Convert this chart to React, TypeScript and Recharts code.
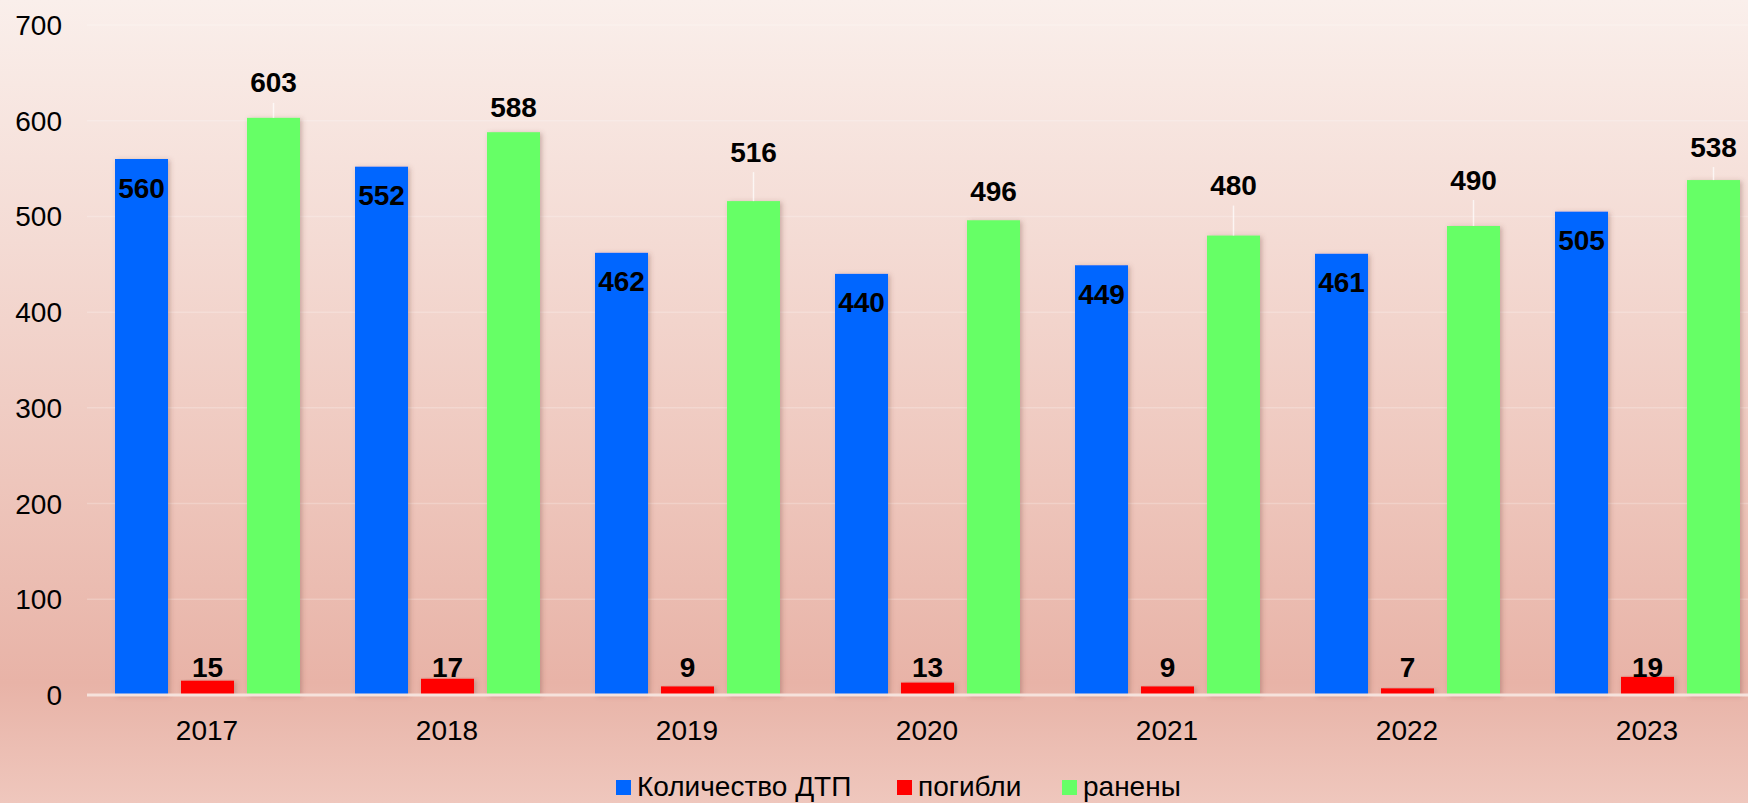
import { BarChart, Bar, XAxis, YAxis, CartesianGrid, LabelList } from "recharts";

const YEARS = ["2017", "2018", "2019", "2020", "2021", "2022", "2023"];
const ACCIDENTS = [560, 552, 462, 440, 449, 461, 505];
const KILLED = [15, 17, 9, 13, 9, 7, 19];
const INJURED = [603, 588, 516, 496, 480, 490, 538];
const Y_TICKS = [0, 100, 200, 300, 400, 500, 600, 700];

// how far above the green bar each label sits (px), as in the source slide
const INJURED_LABEL_LIFT = [35, 25, 49, 29, 50, 46, 33];

const FONT = '"Liberation Sans", Arial, sans-serif';
const BLUE = "#0066ff";
const RED = "#ff0000";
const GREEN = "#66ff66";

const data = YEARS.map((year, i) => ({
  year,
  accidents: ACCIDENTS[i],
  killed: KILLED[i],
  injured: INJURED[i],
}));

const ShadowRect = (props: any) => {
  const { x, y, width, height, fill } = props;
  if (!height || height <= 0) return null;
  return <rect x={x} y={y} width={width} height={height} fill={fill} filter="url(#barShadow)" />;
};

const InsideTopLabel = (props: any) => {
  const { x, y, width, value } = props;
  return (
    <text x={x + width / 2} y={y + 29} textAnchor="middle" dominantBaseline="central"
      fontFamily={FONT} fontSize={28} fontWeight="bold" fill="#000">
      {value}
    </text>
  );
};

const KilledLabel = (props: any) => {
  const { x, y, width, height, value } = props;
  const base = y + height;
  return (
    <text x={x + width / 2} y={base - 28} textAnchor="middle" dominantBaseline="central"
      fontFamily={FONT} fontSize={28} fontWeight="bold" fill="#000">
      {value}
    </text>
  );
};

const InjuredLabel = (props: any) => {
  const { x, y, width, value, index } = props;
  const lift = INJURED_LABEL_LIFT[index] ?? 32;
  const cx = x + width / 2;
  const ly = y - lift;
  return (
    <g>
      {lift > 30 && (
        <line x1={cx} y1={y} x2={cx} y2={ly + 20} stroke="#ffffff" strokeOpacity={0.7} strokeWidth={1.5} />
      )}
      <text x={cx} y={ly} textAnchor="middle" dominantBaseline="central"
        fontFamily={FONT} fontSize={28} fontWeight="bold" fill="#000">
        {value}
      </text>
    </g>
  );
};

const LEGEND = [
  { name: "Количество ДТП", color: BLUE, left: 616 },
  { name: "погибли", color: RED, left: 897 },
  { name: "ранены", color: GREEN, left: 1062 },
];

export default function App() {
  return (
    <div
      style={{
        position: "fixed", left: 0, top: 0, width: 1748, height: 803, overflow: "hidden",
        background: "linear-gradient(to bottom, #faefeb 0%, #f4dbd4 30%, #eec6bc 60%, #e8b3a7 85%, #efc7bd 100%)",
        fontFamily: FONT,
      }}
    >
      <BarChart
        width={1790}
        height={803}
        data={data}
        margin={{ top: 25, right: 23, bottom: 68, left: 0 }}
        barSize={53}
        barGap={13}
      >
        <defs>
          <filter id="barShadow" x="-20%" y="-5%" width="140%" height="110%">
            <feDropShadow dx={2} dy={1} stdDeviation={2.5} floodColor="#7a4a40" floodOpacity={0.35} />
          </filter>
        </defs>
        <CartesianGrid vertical={false} stroke="#ffffff" strokeOpacity={0.22} strokeWidth={1.5} />
        <XAxis
          dataKey="year"
          height={40}
          tickLine={false}
          tickMargin={19}
          axisLine={{ stroke: "#f6e2dc", strokeWidth: 3 }}
          tick={{ fontFamily: FONT, fontSize: 28, fill: "#000" }}
        />
        <YAxis
          width={87}
          domain={[0, 700]}
          ticks={Y_TICKS}
          axisLine={false}
          tickLine={false}
          tickMargin={19}
          tick={{ fontFamily: FONT, fontSize: 28, fill: "#000" }}
        />
        <Bar dataKey="accidents" fill={BLUE} shape={ShadowRect} isAnimationActive={false}>
          <LabelList dataKey="accidents" content={InsideTopLabel} />
        </Bar>
        <Bar dataKey="killed" fill={RED} shape={ShadowRect} isAnimationActive={false}>
          <LabelList dataKey="killed" content={KilledLabel} />
        </Bar>
        <Bar dataKey="injured" fill={GREEN} shape={ShadowRect} isAnimationActive={false}>
          <LabelList dataKey="injured" content={InjuredLabel} />
        </Bar>
      </BarChart>

      {LEGEND.map((item) => (
        <div key={item.name}>
          <div
            style={{
              position: "absolute", left: item.left, top: 780, width: 15, height: 15,
              background: item.color,
            }}
          />
          <span
            style={{
              position: "absolute", left: item.left + 21, top: 773, fontSize: 28, lineHeight: "28px",
              color: "#000", whiteSpace: "nowrap",
            }}
          >
            {item.name}
          </span>
        </div>
      ))}
    </div>
  );
}
